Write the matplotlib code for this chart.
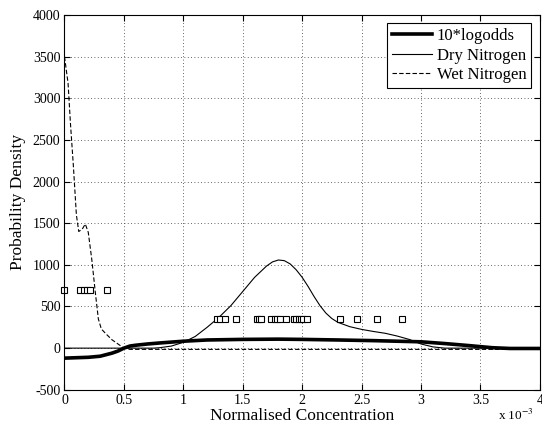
import numpy as np
import matplotlib
matplotlib.use("Agg")
import matplotlib.pyplot as plt

plt.rcParams['font.family'] = ['Liberation Serif', 'DejaVu Serif']
plt.rcParams['mathtext.fontset'] = 'stix'
plt.rcParams['axes.unicode_minus'] = False

# concentration in units of 1e-3
logodds_x = [0, 0.1, 0.2, 0.3, 0.4, 0.45, 0.5, 0.55, 0.6, 0.7, 0.8, 1.0, 1.2, 1.5,
             1.8, 2.0, 2.3, 2.6, 3.0, 3.2, 3.4, 3.6, 3.75, 4.0]
logodds_y = [-120, -115, -110, -97, -60, -35, 0, 25, 35, 50, 62, 83, 98, 105,
             108, 105, 98, 90, 76, 55, 31, 5, -4, -4]

dry_x = [0, 0.5, 0.75, 0.8, 0.9, 1.0, 1.1, 1.2, 1.3, 1.4, 1.5, 1.6, 1.7, 1.75, 1.8,
         1.85, 1.9, 1.95, 2.0, 2.05, 2.1, 2.15, 2.2, 2.25, 2.3, 2.4, 2.5, 2.6, 2.7,
         2.8, 2.9, 3.0, 3.1, 3.2, 4.0]
dry_y = [0, 0, 0, 5, 25, 70, 140, 250, 370, 510, 680, 850, 985, 1035, 1058,
         1050, 1010, 940, 850, 740, 620, 510, 420, 355, 310, 258, 225, 200, 178,
         145, 105, 50, 15, 0, 0]

wet_x = [0, 0.03, 0.05, 0.075, 0.1, 0.12, 0.15, 0.175, 0.2, 0.23, 0.26, 0.285,
         0.31, 0.35, 0.4, 0.45, 0.5, 0.55, 4.0]
wet_y = [3500, 3180, 2700, 2180, 1600, 1400, 1430, 1490, 1390, 1060, 660, 350,
         230, 170, 100, 50, 0, -15, -15]

wet_samples = [0, 0.13, 0.16, 0.19, 0.215, 0.355]
dry_samples = [1.28, 1.31, 1.35, 1.44, 1.62, 1.64, 1.65, 1.74, 1.77, 1.79, 1.81,
               1.86, 1.93, 1.95, 1.97, 1.99, 2.01, 2.04, 2.32, 2.46, 2.63, 2.84]
wet_level = 700
dry_level = 350

fig = plt.figure(figsize=(5.42, 4.26), dpi=100)
ax = fig.add_axes([0.119, 0.085, 0.877, 0.88])

ax.plot(logodds_x, logodds_y, color='black', lw=2.6, label='10*logodds')
ax.plot(dry_x, dry_y, color='black', lw=0.8, label='Dry Nitrogen')
ax.plot(wet_x, wet_y, color='black', lw=0.8, ls=(0, (4, 2)), label='Wet Nitrogen')
ax.plot(wet_samples, [wet_level] * len(wet_samples), ls='none', marker='s', ms=4.6,
        mfc='white', mec='black', mew=0.8, clip_on=False)
ax.plot(dry_samples, [dry_level] * len(dry_samples), ls='none', marker='s', ms=4.6,
        mfc='white', mec='black', mew=0.8)

ax.set_xlim(0, 4)
ax.set_ylim(-500, 4000)
ax.set_xticks(np.arange(0, 4.01, 0.5))
ax.set_xticklabels(['0', '0.5', '1', '1.5', '2', '2.5', '3', '3.5', '4'])
ax.set_yticks(np.arange(-500, 4001, 500))
ax.tick_params(direction='in', top=True, right=True, labelsize=10, length=4, pad=3)
ax.grid(True, ls=(0, (1, 3)), color='#333333', lw=0.6)
for s in ax.spines.values():
    s.set_linewidth(0.8)

ax.set_xlabel('Normalised Concentration', fontsize=12.5, labelpad=1)
ax.set_ylabel('Probability Density', fontsize=12.5, labelpad=5)
fig.text(0.985, 0.008, r'x 10$^{-3}$', fontsize=9.5, ha='right', va='bottom')

leg = ax.legend(loc='upper right', fontsize=12, fancybox=False, framealpha=1,
                edgecolor='black', handlelength=2.4, borderaxespad=0.5,
                borderpad=0.3, labelspacing=0.2, handletextpad=0.3)
leg.get_frame().set_linewidth(0.8)

fig.savefig('out.png', dpi=100)
